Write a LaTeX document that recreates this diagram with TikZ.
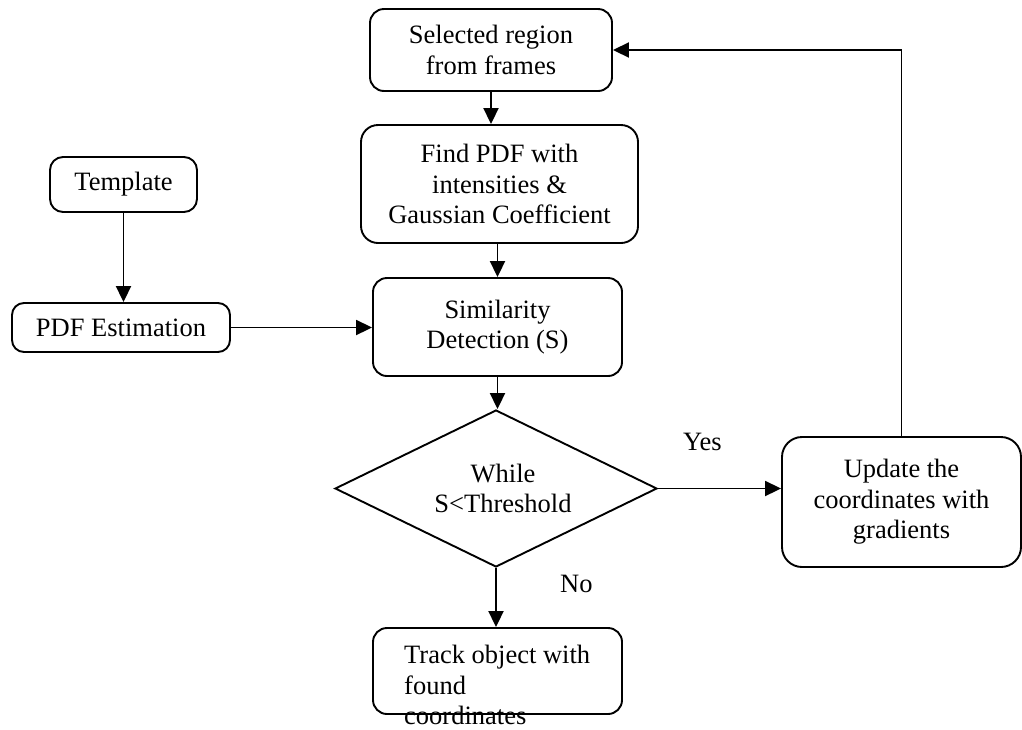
\documentclass[tikz,border=0pt]{standalone}
\usepackage{fontspec}
\setmainfont{Liberation Serif}
\usetikzlibrary{arrows.meta,shapes.geometric,calc}
\begin{document}
\begin{tikzpicture}[x=1pt,y=-1pt,
  every node/.style={font=\fontsize{26.5}{30.5}\selectfont},
  box/.style={draw, line width=1.9pt, rounded corners=14pt, align=center, inner sep=0pt},
  decision/.style={draw, diamond, aspect=2.05, line width=1.9pt, align=center, inner sep=0pt},
  arr/.style={line width=1.9pt, -{Triangle[length=16pt,width=15pt]}},
  lbl/.style={anchor=base west, inner sep=0pt}]
\useasboundingbox (0,0) rectangle (1022,729);

\node[box, minimum width=242pt, minimum height=82pt] (sel) at (491,50) {Selected region\\from frames};
\node[box, minimum width=277pt, minimum height=118pt, rounded corners=17pt] (find) at (499.5,184) {Find PDF with\\intensities \&\\Gaussian Coefficient};
\node[box, minimum width=147pt, minimum height=55pt, rounded corners=13pt] (templ) at (123.5,184.5) {Template};
\node[box, minimum width=218pt, minimum height=49pt, rounded corners=12pt] (est) at (121,327.5) {PDF Estimation};
\node[box, minimum width=249pt, minimum height=98pt] (sim) at (497.5,327) {Similarity\\Detection (S)};
\node[decision, minimum width=322pt, minimum height=157pt] (dec) at (496,488.5) {\hspace*{14pt}While\\\hspace*{14pt}S<Threshold};
\node[box, minimum width=239pt, minimum height=130pt, rounded corners=20pt] (upd) at (901.5,502) {Update the\\coordinates with\\gradients};
\node[box, minimum width=249pt, minimum height=86pt] (track) at (497.5,671) {};
\node[anchor=north west, align=left, inner sep=0pt] (tracktxt) at (404,645) {Track object with\\found\\coordinates};

\node[lbl] (yes) at (683,450) {Yes};
\node[lbl] (no) at (560,592) {No};

\draw[arr] (sel.south) -- (sel.south |- find.north);
\draw[arr] (templ.south) -- (templ.south |- est.north);
\draw[arr] (est.east) -- (est.east -| sim.west);
\draw[arr] (sim.north |- find.south) -- (sim.north);
\draw[arr] (sim.south) -- (sim.south |- dec.north);
\draw[arr] (dec.east) -- (dec.east -| upd.west);
\draw[arr] (dec.south) -- (dec.south |- track.north);
\draw[arr] (upd.north) |- (sel.east);
\end{tikzpicture}
\end{document}
